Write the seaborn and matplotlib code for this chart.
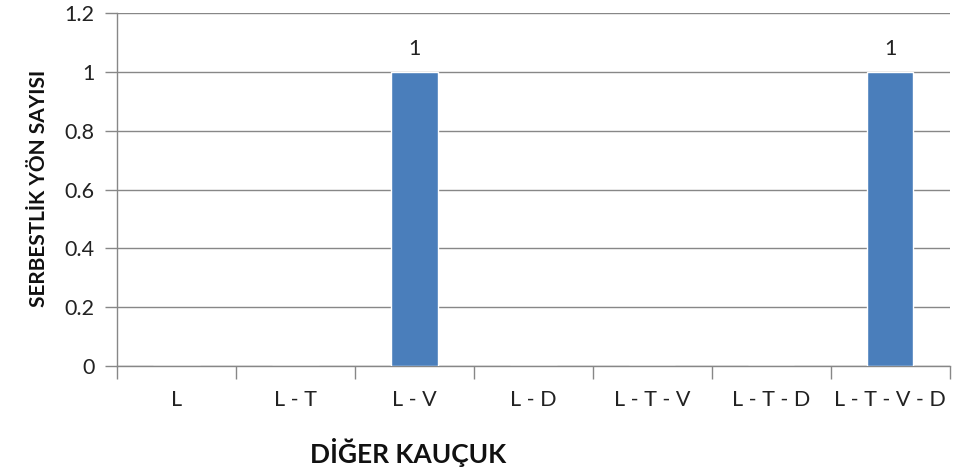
import matplotlib
matplotlib.use("Agg")
import matplotlib.pyplot as plt
import seaborn as sns
import pandas as pd
import numpy as np

categories = ["L", "L - T", "L - V", "L - D", "L - T - V", "L - T - D", "L - T - V - D"]
values = [0, 0, 1, 0, 0, 0, 1]
y_ticks = [0, 0.2, 0.4, 0.6, 0.8, 1, 1.2]
y_tick_labels = ["0", "0.2", "0.4", "0.6", "0.8", "1", "1.2"]
x_title = "DİĞER KAUÇUK"
y_title = "SERBESTLİK YÖN SAYISI"

sns.set_theme(style="white")
plt.rcParams['font.family'] = ['Lato', 'DejaVu Sans']

df = pd.DataFrame({"cat": categories, "val": values})

fig = plt.figure(figsize=(9.71, 4.75), dpi=100)
ax = fig.add_axes([0.1205, 0.2295, 0.8575, 0.7431])

sns.barplot(data=df, x="cat", y="val", color="#4A7EBB", saturation=1, width=0.39, ax=ax, zorder=3)

ax.set_ylim(0, 1.2)
ax.set_xlim(-0.5, len(categories) - 0.5)
ax.set_yticks(y_ticks)
ax.set_yticklabels(y_tick_labels)
ax.grid(axis="y", color="#878787", linewidth=1, zorder=0)
ax.set_axisbelow(True)

for s in ["top", "right"]:
    ax.spines[s].set_visible(False)
for s in ["left", "bottom"]:
    ax.spines[s].set_color("#878787")
    ax.spines[s].set_linewidth(1)

ax.tick_params(axis="y", which="major", length=9, width=1, color="#878787", left=True, labelsize=15.5, labelcolor="#222222", pad=7)
ax.tick_params(axis="x", which="major", length=0, labelsize=15.5, labelcolor="#222222", pad=17)
ax.set_xticks(np.arange(-0.5, len(categories)), minor=True)
ax.tick_params(axis="x", which="minor", length=9, width=1, color="#878787", bottom=True)

labels = [("%g" % v) if v != 0 else "" for v in values]
ax.bar_label(ax.containers[0], labels=labels, padding=9, fontsize=15.5, color="#222222")

ax.set_xlabel(x_title, fontsize=19, fontweight="bold", color="#111111", va="center")
ax.xaxis.set_label_coords(0.349, -0.245)
ax.set_ylabel(y_title, fontsize=15, fontweight="bold", color="#111111", va="center")
ax.yaxis.set_label_coords(-0.094, 0.504)

fig.savefig("out.png", dpi=100)
